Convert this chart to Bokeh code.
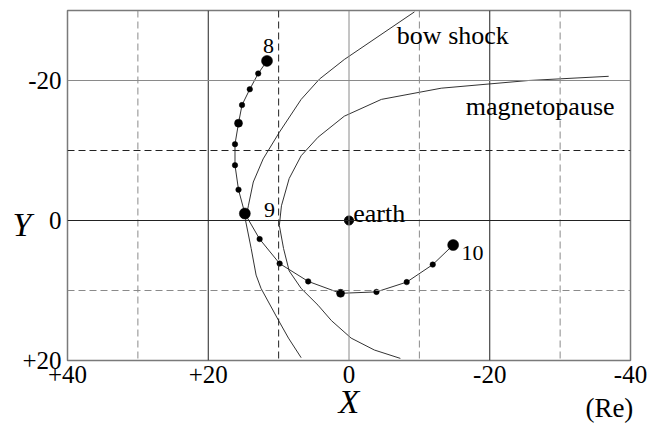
from bokeh.plotting import figure
from bokeh.models import Range1d, Span, Label, FixedTicker, ColumnDataSource, LinearAxis
from bokeh.core.properties import value
from bokeh.embed import file_html
from bokeh.resources import INLINE

# ---- data (Re) ----
traj_x = [11.65, 12.9, 14.1, 15.2, 15.7, 16.2, 16.2, 15.7, 14.8, 12.7, 9.86, 5.8, 1.2, -3.9, -8.2, -11.9, -14.8]
traj_y = [-22.8, -21.0, -18.75, -16.5, -13.9, -10.9, -7.9, -4.4, -1.0, 2.65, 6.15, 8.7, 10.4, 10.2, 8.8, 6.3, 3.5]
traj_kind = ["hour", "tick", "tick", "tick", "half", "tick", "tick", "tick", "hour",
             "tick", "tick", "tick", "half", "tick", "tick", "tick", "hour"]

hour_labels = ["8", "9", "10"]
hour_label_x = [11.45, 11.3, -16.0]
hour_label_y = [-24.86, -1.56, 4.69]
hour_label_align = ["center", "center", "left"]

bow_x = [-9.3, 0.67, 4.2, 6.8, 9.9, 12.2, 13.6, 14.3, 14.7, 13.9, 13.2, 12.5, 10.0, 8.6, 6.8]
bow_y = [-29.8, -23.0, -20.2, -17.3, -12.6, -8.8, -5.5, -2.1, 0.0, 4.0, 7.8, 9.7, 14.3, 16.8, 19.6]

mp_x = [-36.9, -25.5, -13.1, -4.6, 0.67, 4.4, 6.8, 8.5, 9.6, 9.9, 9.3, 8.5, 6.8, 4.4, 2.5, -0.3, -3.6, -7.3]
mp_y = [-20.6, -20.0, -18.9, -17.3, -14.9, -11.9, -9.25, -6.0, -2.1, 0.7, 4.0, 7.2, 9.7, 12.1, 14.3, 16.8, 18.5, 19.7]

earth_x = [0.0]
earth_y = [0.0]

x_ticks = [40, 20, 0, -20, -40]
x_tick_labels = ["+40", "+20", "0", "-20", "-40"]
y_ticks = [-20, 0, 20]
y_tick_labels = ["-20", "0", "+20"]
x_title = "X"
y_title = "Y"
y_title_at = 0.5
unit_text = "(Re)"
unit_at = -37

solid_x = [20, 0, -20]
dashed_x = [30, 10, -10, -30]
solid_y = [-20, 0]
dashed_y = [-10, 10]

FONT = "'Liberation Serif'"
AXFONT = "Times New Roman"

p = figure(width=654, height=425, output_backend="svg", toolbar_location=None,
           x_range=Range1d(40, -40), y_range=Range1d(20, -30),
           min_border_left=67, min_border_right=24, min_border_top=10, min_border_bottom=63)
p.background_fill_color = "white"
p.border_fill_color = "white"
p.outline_line_color = "#7a7a7a"
p.outline_line_width = 1.5
p.xgrid.visible = False
p.ygrid.visible = False


def style_axis(ax, ticks, labels, size, italic=False):
    ax.ticker = FixedTicker(ticks=ticks)
    ax.major_label_overrides = {t: l for t, l in zip(ticks, labels)}
    ax.axis_line_color = None
    ax.major_tick_line_color = None
    ax.minor_tick_line_color = None
    ax.major_tick_in = 0
    ax.major_tick_out = 0
    ax.major_label_text_font = AXFONT
    ax.major_label_text_font_size = size
    ax.major_label_text_color = "black"
    if italic:
        ax.major_label_text_font_style = "italic"


style_axis(p.xaxis[0], x_ticks, x_tick_labels, "25px")
style_axis(p.yaxis[0], y_ticks, y_tick_labels, "25px")
p.xaxis[0].major_label_standoff = 5
p.yaxis[0].major_label_standoff = 6

# X title as axis label of the bottom axis
p.xaxis[0].axis_label = x_title
p.xaxis[0].axis_label_text_font = AXFONT
p.xaxis[0].axis_label_text_font_style = "italic"
p.xaxis[0].axis_label_text_font_size = "34px"
p.xaxis[0].axis_label_text_color = "black"
p.xaxis[0].axis_label_standoff = -3

# unit text on an extra bottom axis
unit_ax = LinearAxis()
style_axis(unit_ax, [unit_at], [unit_text], "27px")
unit_ax.major_label_standoff = -30
p.add_layout(unit_ax, "below")

# Y title on an extra left axis
y_ax = LinearAxis()
style_axis(y_ax, [y_title_at], [y_title], "34px", italic=True)
y_ax.major_label_standoff = -12
p.add_layout(y_ax, "left")

# grid lines
sx_col = {20: "#222222", 0: "#8a8a8a", -20: "#222222"}
for v in solid_x:
    p.add_layout(Span(location=v, dimension="height", line_color=sx_col[v], line_width=1))
dx_col = {30: "#8a8a8a", 10: "#222222", -10: "#8a8a8a", -30: "#8a8a8a"}
for v in dashed_x:
    p.add_layout(Span(location=v, dimension="height", line_color=dx_col[v], line_width=1, line_dash="7 4"))
sy_col = {-20: "#8a8a8a", 0: "#222222"}
for v in solid_y:
    p.add_layout(Span(location=v, dimension="width", line_color=sy_col[v], line_width=1))
dy_col = {-10: "#222222", 10: "#8a8a8a"}
for v in dashed_y:
    p.add_layout(Span(location=v, dimension="width", line_color=dy_col[v], line_width=1, line_dash="7 4"))

# boundaries
p.line(bow_x, bow_y, line_color="#333333", line_width=1)
p.line(mp_x, mp_y, line_color="#333333", line_width=1)

# trajectory
p.line(traj_x, traj_y, line_color="#333333", line_width=1)
size_map = {"hour": 11, "half": 8, "tick": 5.5}
src = ColumnDataSource(dict(x=traj_x, y=traj_y, s=[size_map[k] for k in traj_kind]))
p.scatter("x", "y", size="s", source=src, fill_color="black", line_color="black", line_width=0.5)
p.scatter(earth_x, earth_y, size=9, fill_color="black", line_color="black")

# hour labels
hsrc = ColumnDataSource(dict(x=hour_label_x, y=hour_label_y, t=hour_labels, a=hour_label_align))
p.text("x", "y", text="t", source=hsrc, text_align="a", text_baseline="alphabetic",
       text_font=value(FONT), text_font_size="22px", text_color="black")

# annotation texts
ann = [("earth", -0.6, -1.0), ("bow shock", -6.8, -26.4), ("magnetopause", -16.6, -16.3)]
for t, x, y in ann:
    p.add_layout(Label(x=x, y=y, text=t, text_font=FONT, text_font_size="26px",
                       text_align="left", text_baseline="alphabetic", text_color="black"))

open("out.html", "w").write(file_html(p, INLINE))
